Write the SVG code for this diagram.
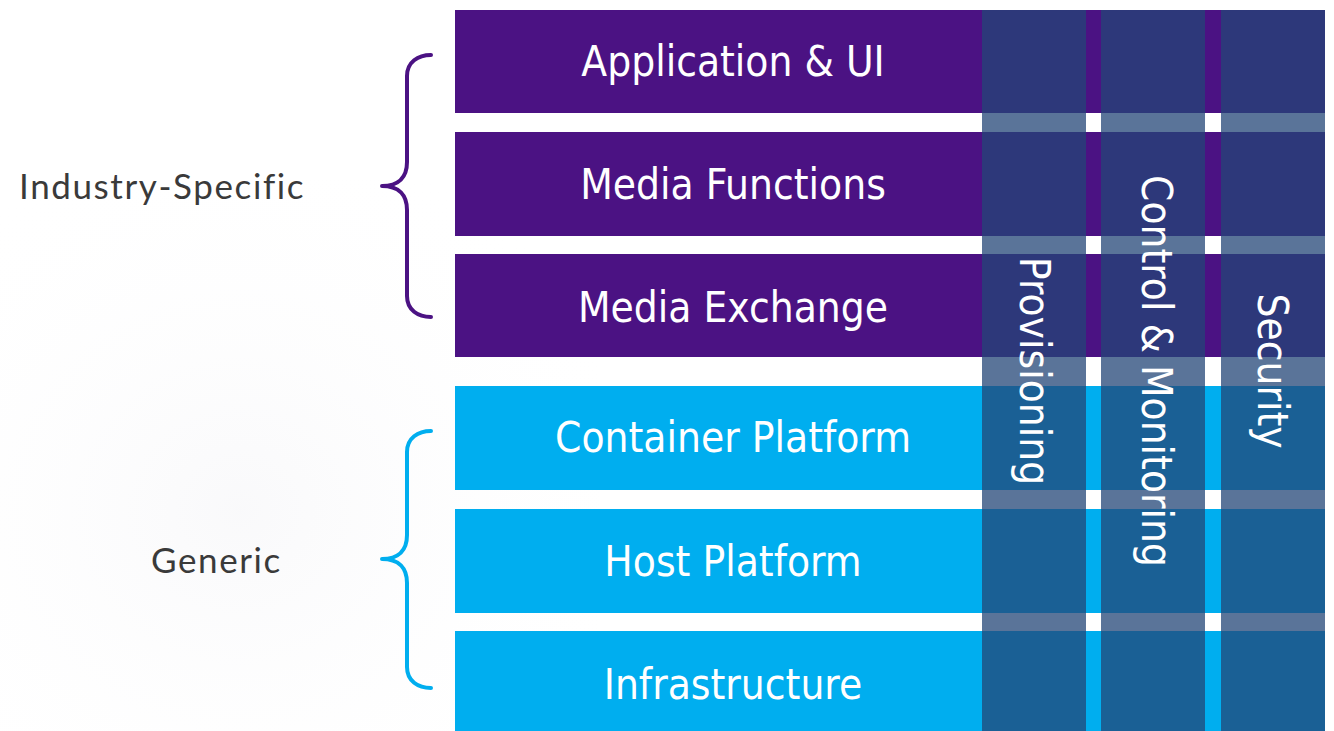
<svg xmlns="http://www.w3.org/2000/svg" width="1334" height="731" viewBox="0 0 1334 731">
  <defs>
    <radialGradient id="haze" cx="0.4" cy="0.6" r="0.7">
      <stop offset="0" stop-color="#ececf1" stop-opacity="0.3"/>
      <stop offset="1" stop-color="#ffffff" stop-opacity="0"/>
    </radialGradient>
    <style>
      .layer-ind { fill: #4b1283; }
      .layer-gen { fill: #00aeef; }
      .pillar { fill: #234677; fill-opacity: 0.75; }
      .label { font-family: "DejaVu Sans Condensed", "DejaVu Sans", sans-serif; font-size: 42px; fill: #ffffff; text-anchor: middle; }
      .group-label { font-family: Lato, "Open Sans", sans-serif; font-size: 35px; letter-spacing: 1.6px; fill: #3a3a3a; }
      .brace { fill: none; stroke-width: 4; stroke-linecap: round; stroke-linejoin: round; }
    </style>
  </defs>

  <rect width="1334" height="731" fill="#ffffff"/>
  <!-- soft background haze on the left side -->
  <rect x="0" y="180" width="600" height="551" fill="url(#haze)"/>

  <!-- horizontal layers -->
  <g id="layer-application">
    <rect class="layer-ind" x="455" y="10" width="870" height="103"/>
    <text class="label" x="733" y="76">Application &amp; UI</text>
  </g>
  <g id="layer-media-functions">
    <rect class="layer-ind" x="455" y="132" width="870" height="104"/>
    <text class="label" x="733" y="199">Media Functions</text>
  </g>
  <g id="layer-media-exchange">
    <rect class="layer-ind" x="455" y="254" width="870" height="103"/>
    <text class="label" x="733" y="322">Media Exchange</text>
  </g>
  <g id="layer-container">
    <rect class="layer-gen" x="455" y="386" width="870" height="104"/>
    <text class="label" x="733" y="452">Container Platform</text>
  </g>
  <g id="layer-host">
    <rect class="layer-gen" x="455" y="509" width="870" height="104"/>
    <text class="label" x="733" y="576">Host Platform</text>
  </g>
  <g id="layer-infrastructure">
    <rect class="layer-gen" x="455" y="631" width="870" height="100"/>
    <text class="label" x="733" y="699">Infrastructure</text>
  </g>

  <!-- vertical cross-cutting pillars -->
  <g id="pillar-provisioning">
    <rect class="pillar" x="982" y="10" width="104" height="721"/>
    <text class="label" transform="translate(1020,371) rotate(90)">Provisioning</text>
  </g>
  <g id="pillar-control">
    <rect class="pillar" x="1101" y="10" width="104" height="721"/>
    <text class="label" transform="translate(1142,371) rotate(90)">Control &amp; Monitoring</text>
  </g>
  <g id="pillar-security">
    <rect class="pillar" x="1221" y="10" width="104" height="721"/>
    <text class="label" transform="translate(1258,371) rotate(90)">Security</text>
  </g>

  <!-- grouping braces -->
  <g id="connectors">
    <path class="brace" stroke="#4b1283" d="M431,55 C418,55 407,62 407,76 L407,162 C407,177 399,186 382,186 C399,186 407,195 407,210 L407,296 C407,310 418,317 431,317"/>
    <path class="brace" stroke="#00aeef" d="M431,431 C418,431 407,438 407,452 L407,535 C407,550 399,559 382,559 C399,559 407,568 407,583 L407,667 C407,681 418,688 431,688"/>
  </g>

  <g id="group-industry">
    <text class="group-label" x="19" y="199">Industry-Specific</text>
  </g>
  <g id="group-generic">
    <text class="group-label" x="151" y="573">Generic</text>
  </g>
</svg>
